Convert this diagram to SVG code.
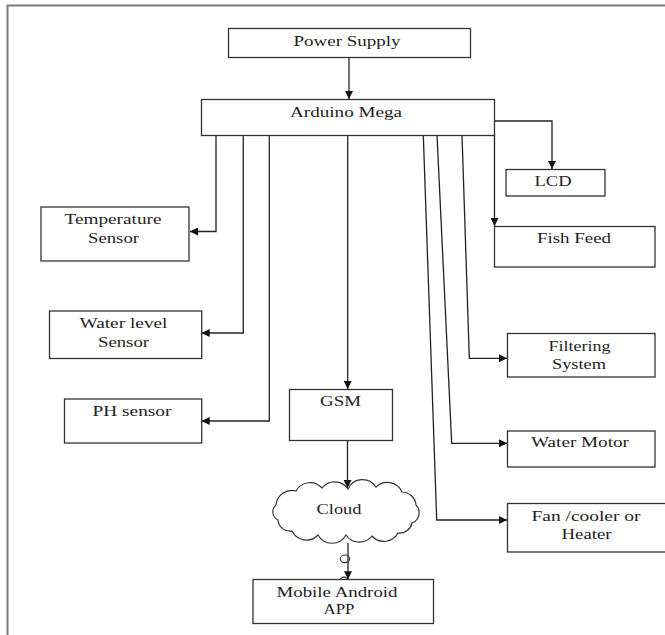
<svg xmlns="http://www.w3.org/2000/svg" width="665" height="635" viewBox="0 0 665 635">
<style>
.box{fill:#fff;stroke:#333;stroke-width:1.3}
.t{font-family:'Liberation Serif','Times New Roman',serif;font-size:15px;fill:#1e1e1e;text-anchor:middle}
.c{fill:none;stroke:#222;stroke-width:1.3}
</style>
<defs>
<marker id="ah" viewBox="0 0 10 10" refX="10" refY="5" markerWidth="8" markerHeight="8" markerUnits="userSpaceOnUse" orient="auto">
<path d="M0,0 L10,5 L0,10 Z" fill="#111"/>
</marker>
</defs>
<rect width="665" height="635" fill="#fff"/>
<path d="M7.5,635 V5.5 H665" fill="none" stroke="#7a7a7a" stroke-width="2"/>

<g id="connectors">
<path class="c" d="M349,57 V99" marker-end="url(#ah)"/>
<path class="c" d="M216,135 V231.5 H190" marker-end="url(#ah)"/>
<path class="c" d="M243.3,135 V333 H201.7" marker-end="url(#ah)"/>
<path class="c" d="M269.3,135 V421 H201.7" marker-end="url(#ah)"/>
<path class="c" d="M347.7,135 V389" marker-end="url(#ah)"/>
<path class="c" d="M423.3,135 L436.7,520 H507" marker-end="url(#ah)"/>
<path class="c" d="M437,135 L451.7,443.3 H507" marker-end="url(#ah)"/>
<path class="c" d="M462,135 L469.3,358.3 H507" marker-end="url(#ah)"/>
<path class="c" d="M494.5,135 V226" marker-end="url(#ah)"/>
<path class="c" d="M494.5,121 H552 V169" marker-end="url(#ah)"/>
<path class="c" d="M347.5,441 V488" marker-end="url(#ah)"/>
<ellipse cx="344" cy="580.5" rx="3.8" ry="3.4" fill="#fff" stroke="#333" stroke-width="1.1"/>
<path class="c" d="M348,543 V579.3" marker-end="url(#ah)"/>
<ellipse cx="345" cy="558.8" rx="4.7" ry="3.8" fill="none" stroke="#333" stroke-width="1.1"/>
</g>

<g id="power-supply">
<rect class="box" x="228.5" y="28.5" width="242" height="29"/>
<text class="t" x="347" y="46" textLength="107" lengthAdjust="spacingAndGlyphs">Power Supply</text>
</g>
<g id="arduino-mega">
<rect class="box" x="201.5" y="99.5" width="293" height="36"/>
<text class="t" x="346" y="117" textLength="112" lengthAdjust="spacingAndGlyphs">Arduino Mega</text>
</g>
<g id="lcd">
<rect class="box" x="506" y="169.5" width="99" height="26.5"/>
<text class="t" x="553" y="186" textLength="37" lengthAdjust="spacingAndGlyphs">LCD</text>
</g>
<g id="fish-feed">
<rect class="box" x="494.5" y="226.5" width="160.5" height="40.5"/>
<text class="t" x="574" y="243" textLength="74" lengthAdjust="spacingAndGlyphs">Fish Feed</text>
</g>
<g id="temperature-sensor">
<rect class="box" x="41" y="207" width="148" height="54"/>
<text class="t" x="113" y="224" textLength="97" lengthAdjust="spacingAndGlyphs">Temperature</text>
<text class="t" x="113.5" y="243" textLength="51" lengthAdjust="spacingAndGlyphs">Sensor</text>
</g>
<g id="water-level-sensor">
<rect class="box" x="49.5" y="311" width="152.2" height="47.5"/>
<text class="t" x="123.5" y="327.5" textLength="88" lengthAdjust="spacingAndGlyphs">Water level</text>
<text class="t" x="123.5" y="347" textLength="51" lengthAdjust="spacingAndGlyphs">Sensor</text>
</g>
<g id="ph-sensor">
<rect class="box" x="64.5" y="399" width="137.2" height="44"/>
<text class="t" x="132" y="416" textLength="79" lengthAdjust="spacingAndGlyphs">PH sensor</text>
</g>
<g id="gsm">
<rect class="box" x="289.5" y="389.5" width="103" height="51"/>
<text class="t" x="340.5" y="405.5" textLength="41" lengthAdjust="spacingAndGlyphs">GSM</text>
</g>
<g id="cloud">
<path d="M276,505 A16,16 0 0 1 296,491 A16,16 0 0 1 322,488 A16,16 0 0 1 348,489 A16,16 0 0 1 376,487 A16,16 0 0 1 402,492 A14,14 0 0 1 416,505 A11,11 0 0 1 412,523 A13,13 0 0 1 398,533 A16,16 0 0 1 372,536 A16,16 0 0 1 346,535 A16,16 0 0 1 318,535 A16,16 0 0 1 292,531 A12,12 0 0 1 278,520 A9,9 0 0 1 276,505 Z" fill="#fff" stroke="#333" stroke-width="1.2"/>
<text class="t" x="339" y="514" textLength="45" lengthAdjust="spacingAndGlyphs">Cloud</text>
</g>
<g id="mobile-android-app">
<rect class="box" x="253" y="579.5" width="180.5" height="44"/>
<text class="t" x="337" y="596.5" textLength="121" lengthAdjust="spacingAndGlyphs">Mobile Android</text>
<text class="t" x="339" y="613.5" textLength="31" lengthAdjust="spacingAndGlyphs">APP</text>
</g>
<g id="filtering-system">
<rect class="box" x="507.5" y="333.5" width="147.5" height="43.5"/>
<text class="t" x="579.5" y="351" textLength="62" lengthAdjust="spacingAndGlyphs">Filtering</text>
<text class="t" x="579" y="369" textLength="54" lengthAdjust="spacingAndGlyphs">System</text>
</g>
<g id="water-motor">
<rect class="box" x="507.5" y="431" width="147.5" height="36"/>
<text class="t" x="580" y="447" textLength="98" lengthAdjust="spacingAndGlyphs">Water Motor</text>
</g>
<g id="fan-cooler-heater">
<rect class="box" x="507.5" y="503.5" width="162" height="48.5"/>
<text class="t" x="586" y="521" textLength="109" lengthAdjust="spacingAndGlyphs">Fan /cooler or</text>
<text class="t" x="586.5" y="539" textLength="50" lengthAdjust="spacingAndGlyphs">Heater</text>
</g>
</svg>
